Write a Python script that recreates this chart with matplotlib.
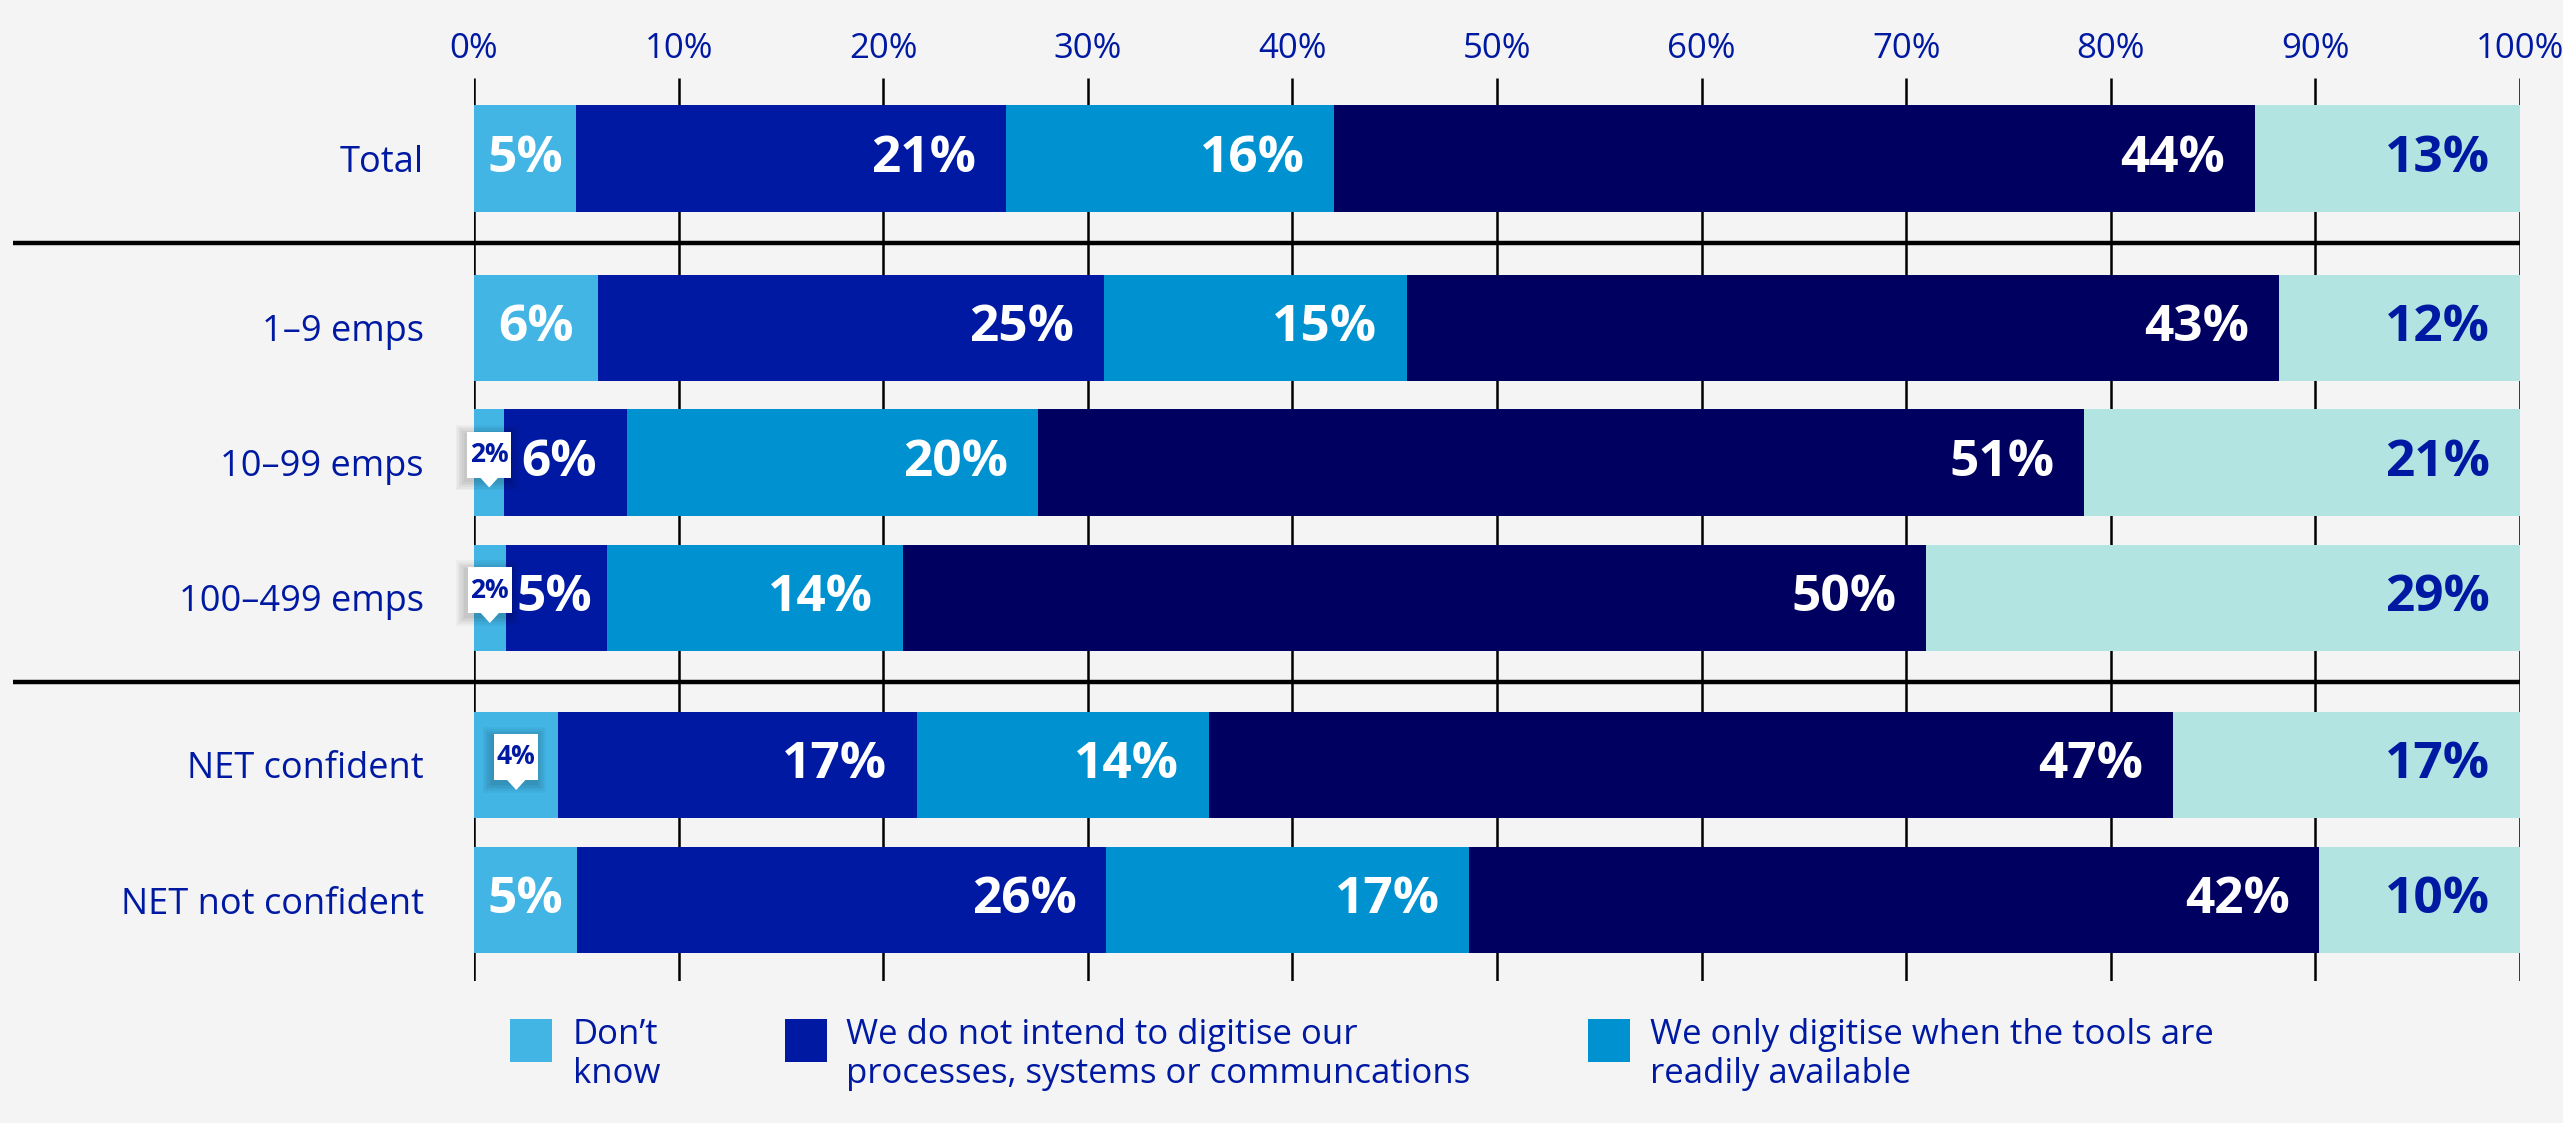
import matplotlib
matplotlib.use('Agg')
import matplotlib.pyplot as plt
import matplotlib.transforms as mtransforms
from matplotlib.patches import Rectangle, Polygon
import numpy as np

# ---------------- data ----------------
categories = ['Total', '1–9 emps', '10–99 emps', '100–499 emps',
              'NET confident', 'NET not confident']
dont_know  = [5.0, 6.07, 1.49, 1.55, 4.13, 5.02]
not_intend = [21.0, 24.73, 5.97, 4.95, 17.52, 25.88]
only_when  = [16.05, 14.8, 20.1, 14.46, 14.25, 17.75]
series_4   = [45.0, 42.6, 51.14, 50.0, 47.15, 41.55]
series_5   = [12.95, 11.8, 21.3, 29.04, 16.95, 9.8]

lab_dont_know  = [5, 6, 2, 2, 4, 5]
lab_not_intend = [21, 25, 6, 5, 17, 26]
lab_only_when  = [16, 15, 20, 14, 14, 17]
lab_series_4   = [44, 43, 51, 50, 47, 42]
lab_series_5   = [13, 12, 21, 29, 17, 10]

tick_values = [0, 10, 20, 30, 40, 50, 60, 70, 80, 90, 100]
tick_labels = ['0%', '10%', '20%', '30%', '40%', '50%', '60%', '70%', '80%', '90%', '100%']

legend_labels = ['Don’t\nknow',
                 'We do not intend to digitise our\nprocesses, systems or communcations',
                 'We only digitise when the tools are\nreadily available']

# ---------------- style ----------------
W, H = 2563, 1123
BG = '#F4F4F4'
BLUE_TXT = '#0019A3'
colors = ['#42B5E5', '#0019A3', '#0091D0', '#000061', '#B2E4E2']
label_colors = ['white', 'white', 'white', 'white', BLUE_TXT]
FONT = 'Open Sans'
plt.rcParams['font.family'] = [FONT, 'DejaVu Sans']

values = [dont_know, not_intend, only_when, series_4, series_5]
labels = [lab_dont_know, lab_not_intend, lab_only_when, lab_series_4, lab_series_5]

fig = plt.figure(figsize=(W / 100, H / 100), dpi=100)
fig.patch.set_facecolor(BG)

ax_left, ax_right = 474, 2520
ax_top, ax_bot = 78, 981
ax = fig.add_axes([ax_left / W, 1 - ax_bot / H, (ax_right - ax_left) / W, (ax_bot - ax_top) / H])
ax.set_facecolor(BG)

# layout: row centres in pixel-like units (y axis spans 903 px)
row_y = [158.5, 328, 462.5, 598, 765, 900]
bar_h = 106.5
sep_y = [242.7, 681.5]

ax.set_xlim(0, 100)
ax.set_ylim(ax_bot - ax_top, 0)
row_y = [y - ax_top for y in row_y]
sep_y = [y - ax_top for y in sep_y]

for s in ax.spines.values():
    s.set_visible(False)

# vertical grid lines
ax.vlines(tick_values, 0, ax_bot - ax_top, colors='black', linewidth=1.8, zorder=0)

# bars
lefts = np.zeros(len(categories))
for k, (vals, col) in enumerate(zip(values, colors)):
    ax.barh(row_y, vals, left=lefts, height=bar_h, color=col, edgecolor='none', zorder=2)
    lefts = lefts + np.array(vals)


def callout(xc, yc, text):
    trans = mtransforms.Affine2D() + mtransforms.ScaledTranslation(xc, yc, ax.transData)
    bw, bh = 44, 46
    cy = 8  # box centre above bar centre (pixels)
    # soft shadow
    for i in range(6, 0, -1):
        g = i * 1.6
        ax.add_patch(Rectangle((-bw / 2 - g - 2, cy - bh / 2 - g - 3), bw + 2 * g, bh + 2 * g,
                               transform=trans, facecolor='black', edgecolor='none',
                               alpha=0.03, zorder=6, clip_on=False))
    ax.add_patch(Rectangle((-bw / 2, cy - bh / 2), bw, bh, transform=trans,
                           facecolor='white', edgecolor='none', zorder=7, clip_on=False))
    ax.add_patch(Polygon([(-10, cy - bh / 2 + 1), (10, cy - bh / 2 + 1), (0, cy - bh / 2 - 10)],
                         closed=True, transform=trans, facecolor='white', edgecolor='none',
                         zorder=7, clip_on=False))
    ax.text(0, cy, text, transform=trans, ha='center', va='center', fontsize=19,
            fontweight='bold', color=BLUE_TXT, zorder=8)


# value labels
lefts = np.zeros(len(categories))
for k, (vals, labs) in enumerate(zip(values, labels)):
    for i, (v, lab) in enumerate(zip(vals, labs)):
        txt = f'{lab}%'
        if k == 0:
            if v >= 4.5:
                ax.text(lefts[i] + v / 2, row_y[i], txt, ha='center', va='center',
                        fontsize=37, fontweight='bold', color=label_colors[k], zorder=4)
            else:
                callout(lefts[i] + v / 2, row_y[i], txt)
        else:
            pad = 1.45 if v >= 5.5 else 0.7
            ax.text(lefts[i] + v - pad, row_y[i], txt, ha='right', va='center',
                    fontsize=37, fontweight='bold', color=label_colors[k], zorder=4)
    lefts = lefts + np.array(vals)

# separators
x_start = (13 - ax_left) / ((ax_right - ax_left) / 100)
for y in sep_y:
    ax.plot([x_start, 100], [y, y], color='black', linewidth=3.2, clip_on=False,
            solid_capstyle='butt', zorder=5)

# ticks
ax.xaxis.tick_top()
ax.set_xticks(tick_values)
ax.set_xticklabels(tick_labels, fontsize=25, color=BLUE_TXT)
ax.tick_params(axis='x', length=0, pad=9)
ax.set_yticks(row_y)
ax.set_yticklabels(categories, fontsize=26, color=BLUE_TXT)
ax.tick_params(axis='y', length=0, pad=36)

# legend (only first three items visible)
leg_sq_x = [510, 785, 1588]
leg_txt_x = [573, 846, 1650]
sq_top, sq_h, sq_w = 1019, 43, 42
for k in range(3):
    fig.patches.append(Rectangle((leg_sq_x[k] / W, 1 - (sq_top + sq_h) / H), sq_w / W, sq_h / H,
                                 transform=fig.transFigure, facecolor=colors[k],
                                 edgecolor='none'))
    fig.text(leg_txt_x[k] / W, 1 - 1018 / H, legend_labels[k], ha='left', va='top',
             fontsize=25, color=BLUE_TXT, linespacing=1.2)

fig.savefig('out.png', dpi=100, facecolor=BG)
